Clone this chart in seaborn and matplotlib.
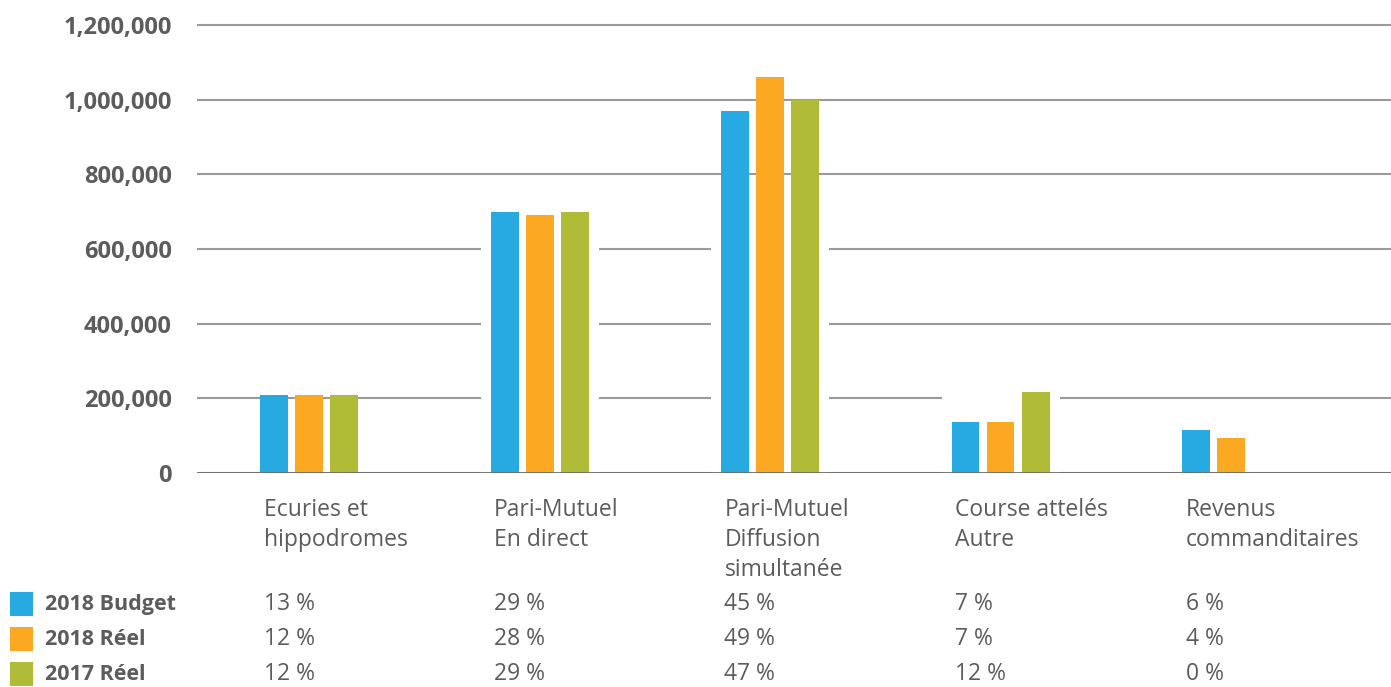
import matplotlib
matplotlib.use("Agg")
import matplotlib.pyplot as plt
from matplotlib.patches import Rectangle
from matplotlib.ticker import FuncFormatter, MultipleLocator
from matplotlib.transforms import Affine2D, blended_transform_factory
import pandas as pd
import seaborn as sns

# ---- data -------------------------------------------------------------
categories = [
    ["Ecuries et", "hippodromes"],
    ["Pari-Mutuel", "En direct"],
    ["Pari-Mutuel", "Diffusion", "simultanée"],
    ["Course attelés", "Autre"],
    ["Revenus", "commanditaires"],
]
series_names = ["2018 Budget", "2018 Réel", "2017 Réel"]
budget_2018 = [208000, 700000, 970000, 137000, 115000]
reel_2018 = [208000, 690000, 1060000, 137000, 94000]
reel_2017 = [208000, 700000, 1000000, 217000, 0]
share_budget_2018 = [13, 29, 45, 7, 6]
share_reel_2018 = [12, 28, 49, 7, 4]
share_reel_2017 = [12, 29, 47, 12, 0]
# white panels behind some groups that interrupt the gridlines
panel_top = [0, 700000, 700000, 300000, 0]

colors = ["#27AAE1", "#FBA922", "#B0BC37"]
text_color = "#5c5c5c"

# ---- figure -----------------------------------------------------------
W, H = 1391, 687
sns.set_theme(style="white")
plt.rcParams["font.family"] = ["Open Sans", "DejaVu Sans"]

fig = plt.figure(figsize=(W / 100, H / 100), dpi=100)


def px_box(left, top, right, bottom):
    return [left / W, 1 - bottom / H, (right - left) / W, (bottom - top) / H]


ax = fig.add_axes(px_box(197, 20, 1391, 473))

cat_keys = [" ".join(c) for c in categories]
long = pd.DataFrame({
    "category": cat_keys * 3,
    "series": [s for s in series_names for _ in cat_keys],
    "value": budget_2018 + reel_2018 + reel_2017,
})
panels = pd.DataFrame({"category": cat_keys, "top": panel_top})

slot = 230.5            # pixels between category centres
first_centre = 309.0    # pixel position of the first category centre
bar_step = 35.0 / slot  # one bar plus its gap, in data units

sns.barplot(data=panels, x="category", y="top", order=cat_keys,
            color="white", saturation=1, width=118.0 / slot,
            errorbar=None, linewidth=0, ax=ax)
sns.barplot(data=long, x="category", y="value", hue="series",
            order=cat_keys, hue_order=series_names, palette=colors,
            saturation=1, width=3 * bar_step, gap=0.2, errorbar=None,
            linewidth=0, legend=False, ax=ax)

ax.set_xlim((197 - first_centre) / slot, (1391 - first_centre) / slot)
ax.set_ylim(0, 1200000 * 453 / 448)
ax.yaxis.set_major_locator(MultipleLocator(200000))
ax.yaxis.set_major_formatter(FuncFormatter(lambda v, _: f"{v:,.0f}"))
ax.set_xlabel("")
ax.set_ylabel("")
ax.tick_params(axis="x", labelbottom=False, length=0)
ax.tick_params(axis="y", length=0, pad=18, labelsize=17, labelcolor=text_color)
for lab in ax.get_yticklabels():
    lab.set_fontweight("bold")
ax.yaxis.grid(True, color="#9a9a9a", linewidth=1.5)
ax.xaxis.grid(False)
ax.set_axisbelow(True)
for sp in ax.spines.values():
    sp.set_visible(False)
ax.axhline(0, color="#6b6b6b", linewidth=2, zorder=3)

# ---- category labels and share table ------------------------------------
top_px = Affine2D().scale(1 / W, -1 / H).translate(0, 1) + fig.transFigure
label_tr = blended_transform_factory(ax.transData, top_px)

line_baselines = [516, 546, 576]
row_baselines = [610, 645, 680]
shares = [share_budget_2018, share_reel_2018, share_reel_2017]

for i, lines in enumerate(categories):
    x = i - 1.5 * bar_step + 7 / slot
    for line, yb in zip(lines, line_baselines):
        ax.text(x, yb, line, transform=label_tr, ha="left", va="baseline",
                fontsize=16.5, fontweight="medium", color=text_color,
                clip_on=False)
    for row, yb in zip(shares, row_baselines):
        ax.text(x, yb, f"{row[i]} %", transform=label_tr, ha="left",
                va="baseline", fontsize=16.5, fontweight="medium",
                color=text_color, clip_on=False)

for name, col, yb in zip(series_names, colors, row_baselines):
    fig.patches.append(Rectangle((10, yb - 18), 23, 24, transform=top_px,
                                 facecolor=col, edgecolor="none"))
    fig.text(45, yb, name, transform=top_px, ha="left", va="baseline",
             fontsize=15.5, fontweight="bold", color=text_color)

fig.savefig("out.png", dpi=100)
